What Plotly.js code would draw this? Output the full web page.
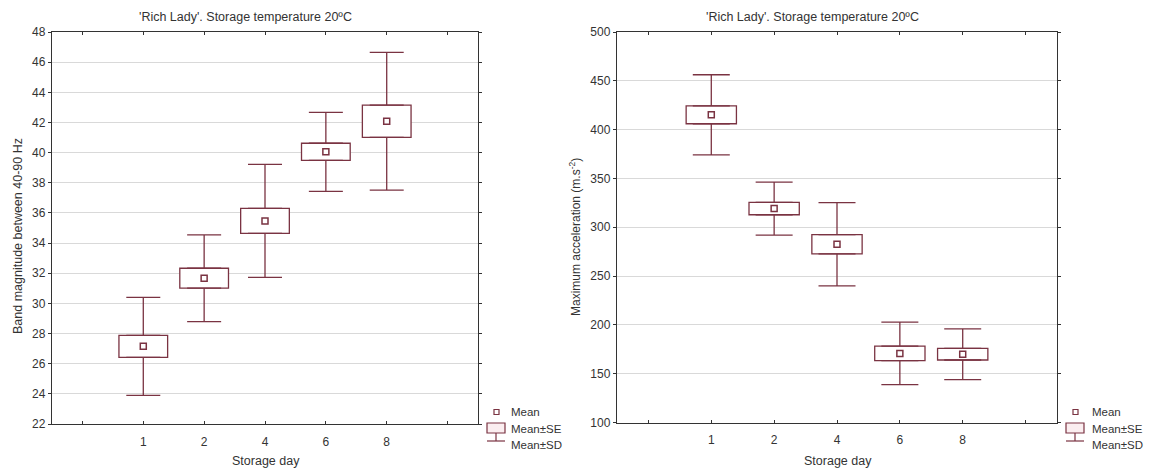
<!DOCTYPE html>
<html>
<head>
<meta charset="utf-8">
<script src="https://cdn.plot.ly/plotly-3.0.1.min.js"></script>
<style>
  html, body { margin: 0; padding: 0; background: #fff; }
  #chart { width: 1150px; height: 469px; }
</style>
</head>
<body>
<div id="chart"></div>
<script>
// ---- data ----
const days = ['1', '2', '4', '6', '8'];
const bandMean = [27.15, 31.67, 35.47, 40.05, 42.08];
const bandSE   = [0.73, 0.66, 0.83, 0.57, 1.07];
const bandSD   = [3.25, 2.88, 3.75, 2.62, 4.57];
const accMean  = [415.2, 319.1, 282.6, 170.8, 170.0];
const accSE    = [9.2, 6.3, 9.9, 7.5, 6.0];
const accSD    = [41.0, 27.2, 42.6, 32.0, 26.0];
const yTicksBand = [22, 24, 26, 28, 30, 32, 34, 36, 38, 40, 42, 44, 46, 48];
const yTicksAcc  = [100, 150, 200, 250, 300, 350, 400, 450, 500];
const chartTitle = "'Rich Lady'. Storage temperature 20ºC";
const xTitle = 'Storage day';
const yTitleBand = 'Band magnitude between 40-90 Hz';
const yTitleAcc = 'Maximum acceleration (m.s<sup>-2</sup>)';
const legendLabels = ['Mean', 'Mean±SE', 'Mean±SD'];

// ---- styling ----
const COL = '#7a3342';
const W = 1150, H = 469;
const FONT = 'Liberation Sans, Arial, sans-serif';
const TXT = '#333';
const pos = days.map((d, i) => i + 1);
const edgeTicks = [0, days.length + 1];

function groupTraces(mean, se, sd, xa, ya, capW) {
  const lo = mean.map((m, i) => m - se[i]);
  const hi = mean.map((m, i) => m + se[i]);
  const rest = sd.map((s, i) => s - se[i]);
  const zeros = mean.map(() => 0);
  return [
    { type: 'bar', x: pos, y: se.map(s => 2 * s), base: lo, width: 0.8,
      xaxis: xa, yaxis: ya, showlegend: false, hoverinfo: 'skip',
      marker: { color: '#ffffff', line: { color: COL, width: 1.3 } } },
    { type: 'scatter', mode: 'markers', x: pos, y: hi, xaxis: xa, yaxis: ya,
      showlegend: false, hoverinfo: 'skip', marker: { opacity: 0, size: 1 },
      error_y: { type: 'data', symmetric: false, array: rest, arrayminus: zeros,
                 color: COL, thickness: 1.3, width: capW } },
    { type: 'scatter', mode: 'markers', x: pos, y: lo, xaxis: xa, yaxis: ya,
      showlegend: false, hoverinfo: 'skip', marker: { opacity: 0, size: 1 },
      error_y: { type: 'data', symmetric: false, array: zeros, arrayminus: rest,
                 color: COL, thickness: 1.3, width: capW } },
    { type: 'scatter', mode: 'markers', x: pos, y: mean, xaxis: xa, yaxis: ya,
      showlegend: false, hoverinfo: 'skip',
      marker: { symbol: 'square-open', size: 6, color: COL, line: { width: 1.5, color: COL } } }
  ];
}

const data = [].concat(
  groupTraces(bandMean, bandSE, bandSD, 'x', 'y', 17),
  groupTraces(accMean, accSE, accSD, 'x2', 'y2', 18.5)
);

function xAxis(domain, anchor) {
  return {
    domain: domain, anchor: anchor, range: [-0.5, days.length + 1.5],
    tickvals: pos, ticktext: days, ticks: 'inside', ticklen: 3,
    ticklabelstandoff: 6,
    tickcolor: '#333', showgrid: false, zeroline: false, showline: true,
    minor: { tickvals: edgeTicks, ticks: 'inside', ticklen: 3, tickcolor: '#333', showgrid: false },
    linecolor: '#333', linewidth: 1.2, mirror: 'ticks',
    tickfont: { family: FONT, size: 12, color: TXT }, fixedrange: true
  };
}
function yAxis(domain, anchor, range, ticks) {
  return {
    domain: domain, anchor: anchor, range: range, tickvals: ticks,
    ticks: 'outside', ticklen: 3, tickcolor: '#333', showgrid: true,
    gridcolor: '#d9d9d9', gridwidth: 1, zeroline: false, showline: true,
    linecolor: '#333', linewidth: 1.2, mirror: 'ticks',
    tickfont: { family: FONT, size: 12, color: TXT }, fixedrange: true
  };
}

const px = v => v / W, py = v => 1 - v / H;

const ann = [];
const shapes = [];
function text(x, y, t, opts) {
  ann.push(Object.assign({ xref: 'paper', yref: 'paper', x: px(x), y: py(y), text: t,
    xanchor: 'center', yanchor: 'middle', showarrow: false,
    font: { family: FONT, size: 12, color: TXT } }, opts || {}));
}
text(245, 17, chartTitle, { font: { family: FONT, size: 12.5, color: TXT } });
text(812, 17, chartTitle, { font: { family: FONT, size: 12.5, color: TXT } });
text(266, 461, xTitle, { font: { family: FONT, size: 12.5, color: TXT } });
text(838, 461, xTitle, { font: { family: FONT, size: 12.5, color: TXT } });
text(18, 236, yTitleBand, { textangle: -90, font: { family: FONT, size: 12.5, color: TXT } });
text(575, 237, yTitleAcc, { textangle: -90, font: { family: FONT, size: 12, color: TXT } });

function legend(x0, tx) {
  // mean marker
  shapes.push({ type: 'rect', xref: 'paper', yref: 'paper', x0: px(x0 + 7), x1: px(x0 + 12),
    y0: py(414.5), y1: py(409.5), line: { color: COL, width: 1.2 }, fillcolor: '#fff' });
  // SE box
  shapes.push({ type: 'rect', xref: 'paper', yref: 'paper', x0: px(x0), x1: px(x0 + 18),
    y0: py(433), y1: py(423), line: { color: COL, width: 1.2 }, fillcolor: '#fbeef0' });
  // SD stem and cap
  shapes.push({ type: 'line', xref: 'paper', yref: 'paper', x0: px(x0 + 9), x1: px(x0 + 9),
    y0: py(433), y1: py(441), line: { color: COL, width: 1.2 } });
  shapes.push({ type: 'line', xref: 'paper', yref: 'paper', x0: px(x0), x1: px(x0 + 18),
    y0: py(441), y1: py(441), line: { color: COL, width: 1.2 } });
  const ys = [412, 429, 445];
  legendLabels.forEach((l, i) => text(tx, ys[i], l, { xanchor: 'left',
    font: { family: FONT, size: 11.5, color: TXT } }));
}
legend(487, 509);
legend(1066, 1090);

const layout = {
  width: W, height: H, margin: { l: 0, r: 0, t: 0, b: 0 },
  paper_bgcolor: '#fff', plot_bgcolor: '#fff', showlegend: false,
  barmode: 'overlay', font: { family: FONT, size: 11, color: TXT },
  xaxis: xAxis([px(52), px(478)], 'y'),
  yaxis: yAxis([py(424), py(32)], 'x', [22, 48], yTicksBand),
  xaxis2: xAxis([px(617), px(1057)], 'y2'),
  yaxis2: yAxis([py(422.5), py(32)], 'x2', [100, 500], yTicksAcc),
  annotations: ann, shapes: shapes
};

Plotly.newPlot('chart', data, layout, { staticPlot: true, displayModeBar: false });
</script>
</body>
</html>
